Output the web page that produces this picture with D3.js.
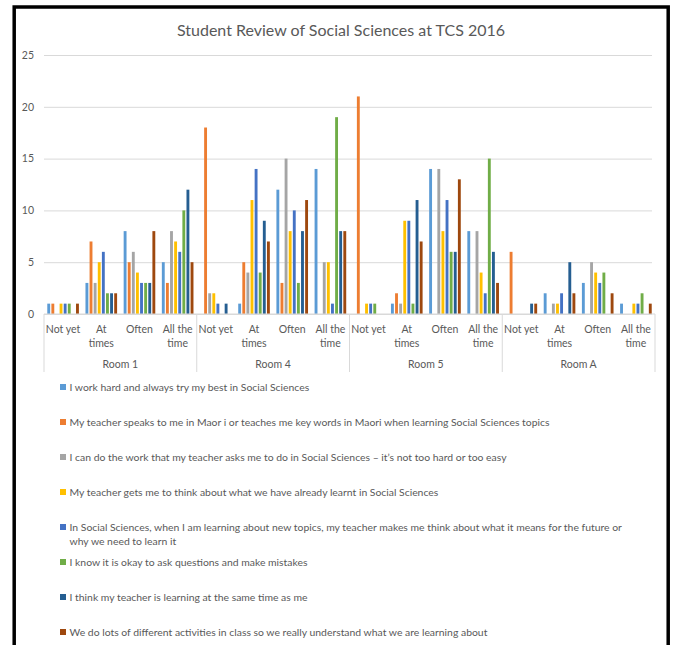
<!DOCTYPE html>
<html>
<head>
<meta charset="utf-8">
<script src="https://cdn.jsdelivr.net/npm/d3@7"></script>
<style>
  body { margin: 0; background: #fff; }
  text { font-family: Lato, "Open Sans", sans-serif; fill: #595959; }
</style>
</head>
<body>
<div class="chart"></div>
<script>
// DATA ------------------------------
const rooms = ["Room 1", "Room 4", "Room 5", "Room A"];
const responses = ["Not yet", "At times", "Often", "All the time"];
const statements = [
    "I work hard and always try my best in Social Sciences",
    "My teacher speaks to me in Maor i or teaches me key words in Maori when learning Social Sciences topics",
    "I can do the work that my teacher asks me to do in Social Sciences \u2013 it\u2019s not too hard or too easy",
    "My teacher gets me to think about what we have already learnt in Social Sciences",
    "In Social Sciences, when I am learning about new topics, my teacher makes me think about what it means for the future or|why we need to learn it",
    "I know it is okay to ask questions and make mistakes",
    "I think my teacher is learning at the same time as me",
    "We do lots of different activities in class so we really understand what we are learning about"
];
const colors = ["#5b9bd5", "#ed7d31", "#a5a5a5", "#ffc000", "#4472c4", "#70ad47", "#255e91", "#9e480e"];

// one row per response, one value per statement
const room1 = [[1, 1, 0, 1, 1, 1, 0, 1], [3, 7, 3, 5, 6, 2, 2, 2], [8, 5, 6, 4, 3, 3, 3, 8], [5, 3, 8, 7, 6, 10, 12, 5]];
const room4 = [[0, 18, 2, 2, 1, 0, 1, 0], [1, 5, 4, 11, 14, 4, 9, 7], [12, 3, 15, 8, 10, 3, 8, 11], [14, 0, 5, 5, 1, 19, 8, 8]];
const room5 = [[0, 21, 0, 1, 1, 1, 0, 0], [1, 2, 1, 9, 9, 1, 11, 7], [14, 0, 14, 8, 11, 6, 6, 13], [8, 0, 8, 4, 2, 15, 6, 3]];
const roomA = [[0, 6, 0, 0, 0, 0, 1, 1], [2, 0, 1, 1, 2, 0, 5, 2], [3, 0, 5, 4, 3, 4, 0, 2], [1, 0, 0, 1, 1, 2, 0, 1]];
const yTicks = [0, 5, 10, 15, 20, 25];

const roomValues = [room1, room4, room5, roomA];

// CHART INIT ------------------------------
const W = 675, H = 645;
const plot = {left: 44, right: 655, top: 55, bottom: 314};

const svg = d3.select(".chart")
    .append("svg")
    .attr("width", W)
    .attr("height", H);

// frame
svg.append("rect")
    .attr("x", 14.2)
    .attr("y", 7)
    .attr("width", 654)
    .attr("height", 700)
    .attr("fill", "none")
    .attr("stroke", "#000")
    .attr("stroke-width", 3.5);

// scales
const xRoom = d3.scaleBand()
    .domain(rooms)
    .range([plot.left, plot.right]);

const xResp = d3.scaleBand()
    .domain(responses)
    .range([0, xRoom.bandwidth()]);

const xSer = d3.scaleBand()
    .domain(d3.range(statements.length))
    .range([0, xResp.bandwidth()])
    .paddingInner(0.3)
    .paddingOuter(0.8);

const yScale = d3.scaleLinear()
    .domain([0, 25])
    .range([plot.bottom, plot.top]);

// gridlines + y labels
const yAxis = d3.axisLeft(yScale)
    .tickValues(yTicks)
    .tickSize(-(652 - plot.left))
    .tickPadding(10);

const yAxisGroup = svg.append("g")
    .attr("transform", "translate(" + plot.left + ",0)")
    .call(yAxis);
yAxisGroup.select(".domain").remove();
yAxisGroup.selectAll(".tick line").attr("stroke", "#d9d9d9");
yAxisGroup.selectAll(".tick text")
    .attr("font-size", 10.5)
    .attr("fill", "#595959");

// title
svg.append("text")
    .attr("x", 341)
    .attr("y", 36)
    .attr("text-anchor", "middle")
    .attr("font-size", 16)
    .text("Student Review of Social Sciences at TCS 2016");

// bars
const groups = [];
roomValues.forEach((rows, ri) => {
    rows.forEach((vals, ci) => {
        vals.forEach((v, si) => {
            groups.push({room: rooms[ri], resp: responses[ci], s: si, v: v});
        });
    });
});

svg.selectAll(".bar")
    .data(groups.filter(d => d.v > 0))
    .enter()
    .append("rect")
    .attr("class", "bar")
    .attr("x", d => xRoom(d.room) + xResp(d.resp) + xSer(d.s))
    .attr("y", d => yScale(d.v))
    .attr("width", xSer.bandwidth())
    .attr("height", d => yScale(0) - yScale(d.v))
    .attr("fill", d => colors[d.s]);

// category axis
svg.append("line")
    .attr("x1", plot.left).attr("x2", plot.right)
    .attr("y1", plot.bottom).attr("y2", plot.bottom)
    .attr("stroke", "#d9d9d9");

const seps = rooms.map(r => xRoom(r)).concat([plot.right]);
svg.selectAll(".sep")
    .data(seps)
    .enter()
    .append("line")
    .attr("class", "sep")
    .attr("x1", d => d).attr("x2", d => d)
    .attr("y1", plot.bottom).attr("y2", 372)
    .attr("stroke", "#d9d9d9");

const respLines = {"Not yet": ["Not yet"], "At times": ["At", "times"], "Often": ["Often"], "All the time": ["All the", "time"]};

rooms.forEach(r => {
    responses.forEach(c => {
        const t = svg.append("text")
            .attr("x", xRoom(r) + xResp(c) + xResp.bandwidth() / 2)
            .attr("y", 333)
            .attr("text-anchor", "middle")
            .attr("font-size", 10.5);
        respLines[c].forEach((line, i) => {
            t.append("tspan")
                .attr("x", xRoom(r) + xResp(c) + xResp.bandwidth() / 2)
                .attr("dy", i === 0 ? 0 : 13.5)
                .text(line);
        });
    });
    svg.append("text")
        .attr("x", xRoom(r) + xRoom.bandwidth() / 2)
        .attr("y", 368)
        .attr("text-anchor", "middle")
        .attr("font-size", 10.5)
        .text(r);
});

// legend
const legendY = [387, 422, 457, 492, 527, 562, 597, 632];
const legend = svg.selectAll(".legend")
    .data(statements)
    .enter()
    .append("g")
    .attr("class", "legend")
    .attr("transform", (d, i) => "translate(60," + legendY[i] + ")");

legend.append("rect")
    .attr("x", 0)
    .attr("y", -3)
    .attr("width", 6)
    .attr("height", 6)
    .attr("fill", (d, i) => colors[i]);

legend.append("text")
    .attr("x", 9.5)
    .attr("y", 3.5)
    .attr("font-size", 10.4)
    .each(function(d) {
        const parts = d.split("|");
        parts.forEach((p, i) => {
            d3.select(this).append("tspan")
                .attr("x", 9.5)
                .attr("dy", i === 0 ? 0 : 14)
                .text(p);
        });
    });
</script>
</body>
</html>
